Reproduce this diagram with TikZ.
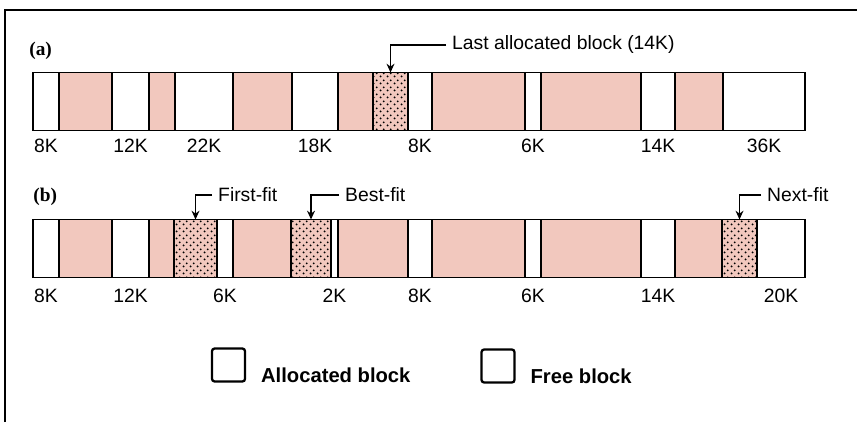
\documentclass[tikz,border=0pt]{standalone}
\usepackage{fontspec}
\setmainfont{Liberation Sans}
\newfontfamily\rowfont{Liberation Serif}
\usetikzlibrary{arrows.meta, positioning, patterns.meta}
\definecolor{allocpink}{RGB}{242,200,190}
\tikzdeclarepattern{
    name=fitdots, type=uncolored,
    bounding box={(0pt,0pt) and (4pt,4pt)},
    tile size={(4pt,4pt)},
    code={
        \fill (1pt,1pt) circle (0.65pt);
        \fill (3pt,3pt) circle (0.65pt);
    }
}

\begin{document}
\begin{tikzpicture}[
        x=0.02cm, y=-0.02cm,
        % Blocks of the memory strip
        blk/.style={draw, line width=1pt, inner sep=0pt, outer sep=0pt, minimum height=1.16cm},
        free/.style={blk, fill=white},
        alloc/.style={blk, fill=allocpink},
        fitblk/.style={blk, preaction={fill=allocpink}, pattern=fitdots, pattern color=black},
        size/.style={font=\fontsize{11}{13}\selectfont},
        note/.style={font=\fontsize{11}{13}\selectfont, anchor=west},
        rowlbl/.style={font=\rowfont\bfseries\fontsize{11}{13}\selectfont, anchor=west, inner sep=0pt},
        legbox/.style={draw, line width=1.3pt, rounded corners=1.5pt, minimum size=0.66cm, inner sep=0pt},
        legtext/.style={font=\bfseries\fontsize{11.5}{14}\selectfont},
        pointer/.style={-{Stealth[length=5pt, width=4.5pt]}, line width=0.9pt}
    ]
    \useasboundingbox (0,0) rectangle (857,422);

    % Frame
    \draw[line width=1.2pt] (5,422) -- (5,10) -- (857,10);

    \coordinate (rowa) at (0,146);
    \coordinate (rowb) at (0,296);

    % (a)
    \node[rowlbl] (lbla) at (29,51) {(a)};
    \foreach \i/\xl/\xr/\kind in {1/33/59/free, 2/59/112/alloc, 3/112/149/free, 4/149/175/alloc,
        5/175/233/free, 6/233/292/alloc, 7/292/338/free, 8/338/373/alloc, 9/373/408/fitblk,
        10/408/432/free, 11/432/525/alloc, 12/525/541/free, 13/541/641/alloc, 14/641/675/free,
        15/675/723/alloc, 16/723/805/free}
        \node[\kind, minimum width={(\xr-\xl)*0.02cm}] (a\i) at ({(\xl+\xr)/2},101.5) {};
    \foreach \b/\t in {a1/8K, a3/12K, a5/22K, a7/18K, a10/8K, a12/6K, a14/14K, a16/36K}
        \node[size] (sz\b) at (\b |- rowa) {\t};

    \node[note] (lastlbl) at (446,45) {Last allocated block (14K)};
    \draw[pointer] (lastlbl.west) -| (a9.north);

    % (b)
    \node[rowlbl] (lblb) at (33,197) {(b)};
    \foreach \i/\xl/\xr/\kind in {1/33/59/free, 2/59/112/alloc, 3/112/149/free, 4/149/174/alloc,
        5/174/217/fitblk, 6/217/233/free, 7/233/291/alloc, 8/291/331/fitblk, 9/331/338/free,
        10/338/408/alloc, 11/408/432/free, 12/432/525/alloc, 13/525/541/free, 14/541/641/alloc,
        15/641/675/free, 16/675/722/alloc, 17/722/757/fitblk, 18/757/805/free}
        \node[\kind, minimum width={(\xr-\xl)*0.02cm}] (b\i) at ({(\xl+\xr)/2},248.5) {};
    \foreach \b/\t in {b1/8K, b3/12K, b6/6K, b9/2K, b11/8K, b13/6K, b15/14K, b18/20K}
        \node[size] (sz\b) at (\b |- rowb) {\t};

    \node[note] (firstlbl) at (212,195) {First-fit};
    \node[note] (bestlbl) at (339,195) {Best-fit};
    \node[note] (nextlbl) at (761,195) {Next-fit};
    \draw[pointer] (firstlbl.west) -| (b5.north);
    \draw[pointer] (bestlbl.west) -| (b8.north);
    \draw[pointer] (nextlbl.west) -| (b17.north);

    % Legend
    \node[legbox] (allockey) at (228.5,365) {};
    \node[legtext, right=5pt of allockey.south east, anchor=base west] (alloctxt) {Allocated block};
    \node[legbox] (freekey) at (498,366) {};
    \node[legtext, right=5pt of freekey.south east, anchor=base west] (freetxt) {Free block};

\end{tikzpicture}
\end{document}
